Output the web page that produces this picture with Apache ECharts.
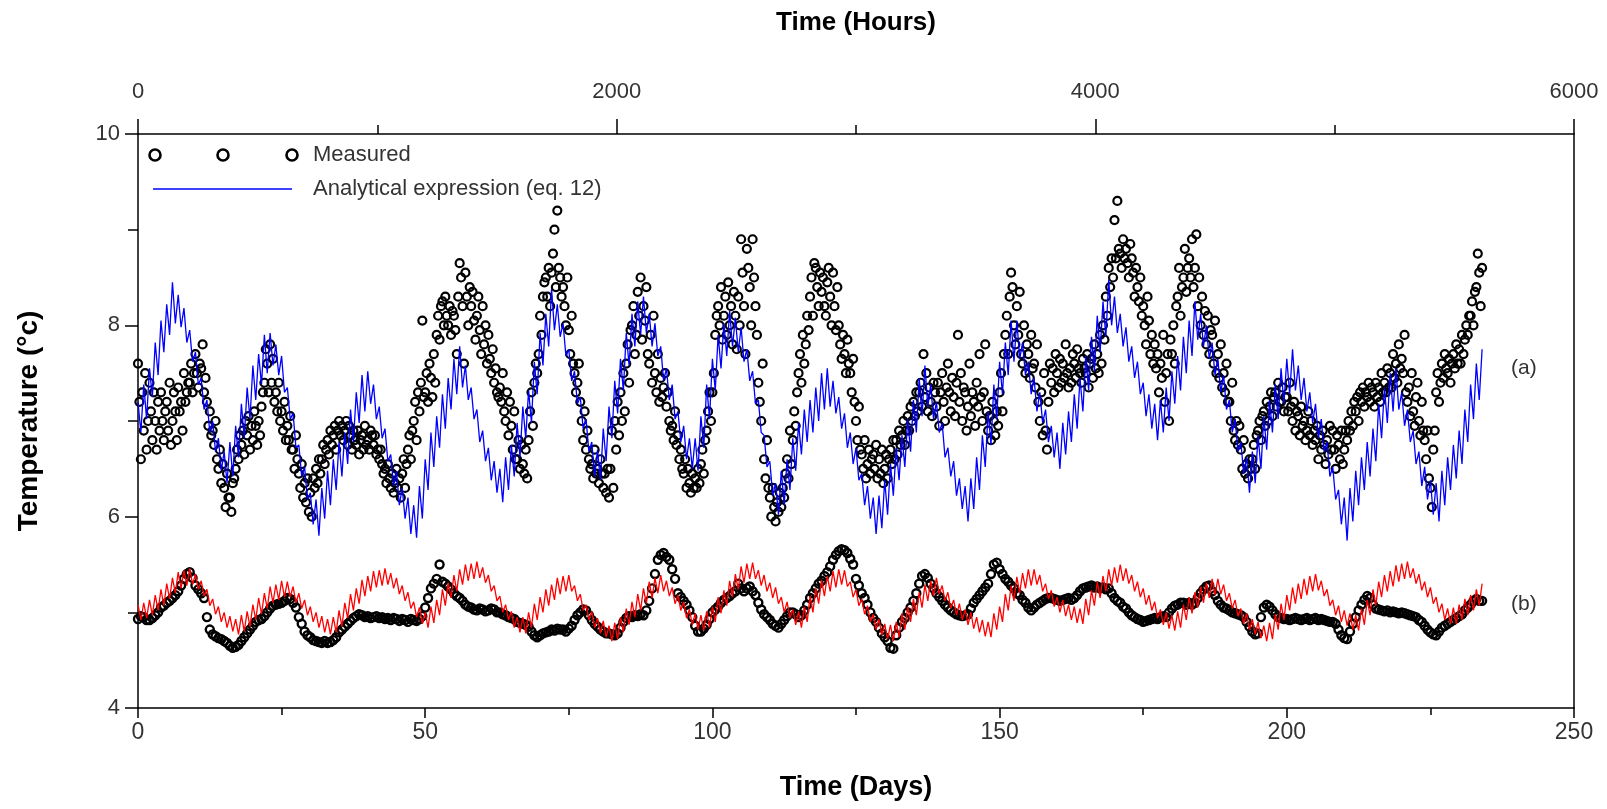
<!DOCTYPE html>
<html>
<head>
<meta charset="utf-8">
<script src="https://cdn.jsdelivr.net/npm/echarts@6.0.0/dist/echarts.min.js"></script>
<style>
html,body{margin:0;padding:0;background:#fff;}
#chart{width:1607px;height:809px;}
</style>
</head>
<body>
<div id="chart"></div>
<script>
// ---------- tick labels / axis ranges ----------
const dayTicks = [0, 50, 100, 150, 200, 250];
const hourTicks = [0, 2000, 4000, 6000];
const tempTicks = [4, 6, 8, 10];

// ---------- (a) measured, one reading every 0.25 day ----------
const measStepA = 0.25;
const measuredA = [
7.6,7.2,6.6,7.3, 6.9,7.5,6.7,7.0, 7.4,7.1,6.8,7.3, 7.0,6.7,7.2,6.9, 7.3,7.0,6.8,7.1,
7.2,6.9,7.4,6.75, 7.0,7.3,7.1,6.8, 7.35,7.1,7.2,6.9, 7.5,7.2,7.3,7.4, 7.4,7.6,7.3,7.5,
7.7,7.5,7.35,7.6, 7.55,7.8,7.3,7.45, 7.2,6.95,7.1,6.85, 6.9,6.75,7.0,6.6, 6.5,6.7,6.35,6.55,
6.3,6.1,6.45,6.2, 6.2,6.05,6.35,6.4, 6.5,6.7,6.6,6.85, 6.75,6.9,6.65,7.0, 6.85,7.05,6.7,6.95,
6.8,7.1,6.95,6.75, 7.0,6.85,7.15,7.3, 7.4,7.75,7.6,7.3, 7.8,7.4,7.65,7.2, 7.3,7.1,7.4,7.0,
7.1,6.9,7.2,6.8, 6.95,6.8,7.05,6.7, 6.7,6.5,6.85,6.6, 6.45,6.3,6.55,6.2, 6.35,6.15,6.4,6.05,
6.25,6.0,6.4,6.3, 6.5,6.35,6.6,6.45, 6.6,6.75,6.55,6.7, 6.8,6.65,6.9,6.75, 6.85,6.95,6.7,6.9,
7.0,6.85,6.95,6.8, 6.9,7.0,6.75,6.95, 6.85,6.7,6.9,6.8, 6.75,6.9,6.65,6.8, 6.85,6.7,6.95,6.75,
6.8,6.7,6.9,6.85, 6.75,6.85,6.65,6.7, 6.6,6.7,6.55,6.45, 6.5,6.35,6.55,6.4, 6.3,6.45,6.25,6.35,
6.5,6.3,6.4,6.2, 6.45,6.6,6.3,6.55, 6.7,6.85,6.6,6.9, 7.0,7.2,6.8,7.3, 7.1,7.4,8.05,7.25,
7.3,7.5,7.2,7.6, 7.45,7.25,7.7,7.4, 7.9,8.1,7.85,8.2, 8.25,8.0,8.3,8.1, 8.0,8.2,7.9,8.15,
8.1,7.95,7.7,8.3, 8.65,8.5,8.2,7.6, 8.55,8.3,8.0,8.4, 8.2,8.35,8.05,7.85, 8.1,8.3,7.95,7.7,
8.2,7.8,8.0,7.6, 7.9,7.65,7.5,7.75, 7.4,7.55,7.3,7.25, 7.35,7.2,7.5,7.1, 7.0,7.3,6.85,7.2,
6.95,6.7,7.1,6.6, 6.6,6.8,6.5,6.75, 6.55,6.45,6.7,6.4, 6.8,7.1,7.3,6.95, 7.4,7.6,7.5,7.7,
8.1,7.9,8.3,8.45, 8.5,8.3,8.6,8.2, 8.55,8.75,9.0,8.4, 9.2,8.6,8.5,8.3, 8.4,8.2,8.0,8.5,
7.95,7.7,8.1,7.6, 7.5,7.3,7.4,7.6, 7.2,7.0,6.8,7.1, 6.7,6.9,6.6,6.5, 6.55,6.4,6.7,6.45,
6.5,6.35,6.6,6.45, 6.3,6.45,6.25,6.5, 6.2,6.5,6.9,6.3, 7.0,6.7,7.2,6.85, 7.3,7.0,7.5,7.1,
7.6,7.8,7.4,7.95, 8.0,8.2,7.7,7.9, 8.35,8.1,8.5,7.85, 8.2,8.05,8.4,7.7, 7.6,7.9,7.4,8.1,
7.5,7.3,7.7,7.2, 7.45,7.25,7.35,7.5, 7.15,7.3,7.0,6.9, 6.95,6.8,7.1,6.75, 6.85,6.6,6.7,6.5,
6.45,6.6,6.3,6.5, 6.35,6.25,6.45,6.3, 6.4,6.3,6.5,6.35, 6.55,6.7,6.45,6.8, 6.9,7.1,7.3,7.0,
7.3,7.5,7.9,8.1, 8.2,8.0,8.4,7.85, 8.1,8.3,7.9,8.45, 8.0,8.2,7.8,8.35, 8.1,7.75,8.3,8.0,
8.9,8.55,8.2,7.7, 8.8,8.6,8.4,8.0, 8.9,8.5,8.2,7.9, 7.4,7.2,7.0,7.6, 6.6,6.4,6.8,6.3,
6.2,6.0,6.3,6.1, 5.95,6.15,6.05,6.25, 6.1,6.3,6.2,6.45, 6.6,6.4,6.9,6.55, 6.8,7.1,6.95,7.3,
7.5,7.7,7.4,7.9, 7.6,7.8,8.1,7.95, 8.3,8.5,8.1,8.65, 8.6,8.4,8.2,8.55, 8.35,8.5,8.2,8.1,
8.45,8.6,8.3,8.0, 8.55,8.2,7.95,8.4, 8.0,7.8,7.65,7.9, 7.7,7.5,7.85,7.6, 7.5,7.3,7.65,7.2,
7.0,6.8,7.15,6.7, 6.65,6.5,6.8,6.4, 6.55,6.7,6.45,6.6, 6.65,6.5,6.75,6.4, 6.6,6.45,6.7,6.35,
6.5,6.65,6.4,6.6, 6.7,6.55,6.8,6.6, 6.8,6.65,6.9,6.75, 6.85,7.0,6.75,6.9, 7.05,6.9,7.15,7.0,
7.2,7.05,7.3,7.1, 7.3,7.4,7.15,7.7, 7.25,7.5,7.1,7.35, 7.2,7.05,7.4,7.3, 7.15,7.4,6.95,7.3,
7.5,7.2,7.0,7.35, 7.6,7.3,7.1,7.45, 7.25,7.05,7.4,7.9, 7.2,7.5,7.0,7.35, 7.3,6.9,7.15,7.6,
7.05,7.3,7.2,6.95, 7.4,7.15,7.7,7.25, 7.0,7.3,7.8,7.1, 6.9,7.05,6.8,7.2, 7.0,6.85,7.1,6.95,
7.3,7.5,7.1,7.7, 7.9,8.1,7.7,8.3, 8.55,8.4,8.0,7.8, 8.2,7.9,8.35,7.7, 7.6,8.0,7.5,7.8,
7.7,7.45,7.9,7.55, 7.6,7.35,7.8,7.2, 7.0,7.3,6.85,7.5, 6.9,6.7,7.2,7.6, 7.4,7.55,7.3,7.7,
7.5,7.35,7.65,7.4, 7.6,7.45,7.8,7.5, 7.35,7.55,7.4,7.7, 7.6,7.45,7.75,7.55, 7.5,7.4,7.65,7.55,
7.5,7.7,7.35,7.6, 7.65,7.45,7.8,7.55, 7.7,7.5,7.9,7.6, 8.0,7.85,8.3,8.1, 8.6,8.4,8.7,8.5,
9.1,8.7,9.3,8.8, 8.75,8.6,8.9,8.7, 8.8,8.65,8.5,8.85, 8.7,8.55,8.3,8.6, 8.4,8.25,8.5,8.1,
8.2,8.0,7.8,8.3, 8.05,7.7,7.9,7.6, 7.8,7.55,7.7,7.3, 7.6,7.45,7.9,7.2, 7.5,7.7,7.0,7.85,
7.7,8.0,7.6,8.2, 8.3,8.6,8.1,8.4, 8.5,8.8,8.35,8.6, 8.7,8.5,8.9,8.4, 8.6,8.95,8.2,8.5,
8.0,8.3,7.9,8.15, 7.8,8.1,7.7,7.95, 7.9,7.6,8.05,7.5, 7.7,7.45,7.8,7.35, 7.5,7.3,7.6,7.2,
7.2,7.0,7.4,6.9, 6.8,7.0,6.75,6.95, 6.7,6.5,6.8,6.45, 6.55,6.4,6.6,6.5, 6.6,6.75,6.5,6.85,
6.9,7.0,6.8,7.05, 7.1,6.95,7.2,7.0, 7.15,7.3,7.05,7.25, 7.3,7.15,7.4,7.2, 7.2,7.35,7.1,7.25,
7.25,7.1,7.4,7.15, 7.0,7.2,6.9,7.1, 7.05,6.85,7.15,6.95, 7.0,6.8,6.9,7.1, 6.85,7.0,6.75,6.9,
6.8,6.95,6.6,6.85, 6.7,6.9,6.75,6.55, 6.8,6.65,6.95,6.7, 6.9,6.7,6.5,6.85, 6.75,6.6,6.9,6.55,
6.7,6.9,6.8,7.0, 6.9,7.1,6.95,7.2, 7.1,7.25,7.0,7.3, 7.2,7.35,7.15,7.3, 7.25,7.4,7.2,7.35,
7.3,7.15,7.4,7.25, 7.35,7.2,7.5,7.3, 7.4,7.3,7.55,7.35, 7.5,7.35,7.7,7.45, 7.6,7.4,7.8,7.55,
7.65,7.5,7.9,7.3, 7.2,7.35,7.05,7.5, 7.1,6.95,7.25,7.4, 7.0,6.85,7.2,6.9, 6.8,6.6,6.9,6.4,
6.3,6.1,6.7,6.9, 7.3,7.5,7.2,7.4, 7.6,7.45,7.7,7.55, 7.5,7.65,7.4,7.6, 7.7,7.55,7.8,7.6,
7.75,7.6,7.9,7.7, 7.85,8.0,7.9,8.1, 8.1,8.25,8.0,8.35, 8.4,8.75,8.55,8.2, 8.6
];

// ---------- (b) measured, one reading every 0.5 day ----------
const measStepB = 0.5;
const measuredB = [
4.93,4.96, 4.95,4.92, 4.92,4.94, 4.97,5.0, 5.05,5.07, 5.1,5.12, 5.15,5.18, 5.22,5.28, 5.35,5.4, 5.42,5.36,
5.28,5.24, 5.2,5.15, 4.95,4.82, 4.77,4.75, 4.73,4.72, 4.7,4.68, 4.65,4.63, 4.64,4.66, 4.7,4.74, 4.78,4.82,
4.86,4.9, 4.92,4.93, 4.96,5.0, 5.04,5.07, 5.08,5.09, 5.1,5.12, 5.15,5.14, 5.1,5.05, 4.95,4.88, 4.8,4.76,
4.74,4.71, 4.7,4.69, 4.68,4.7, 4.68,4.69, 4.71,4.74, 4.79,4.82, 4.85,4.88, 4.91,4.94, 4.96,4.98, 4.97,4.95,
4.96,4.94, 4.95,4.96, 4.94,4.95, 4.93,4.94, 4.92,4.94, 4.93,4.91, 4.93,4.92, 4.9,4.93, 4.92,4.91, 4.93,4.96,
5.05,5.15, 5.25,5.3, 5.35,5.5, 5.32,5.3, 5.27,5.24, 5.2,5.17, 5.15,5.12, 5.08,5.06, 5.05,5.03, 5.02,5.04,
5.03,5.01, 5.02,5.04, 5.03,5.0, 5.0,4.98, 4.97,4.95, 4.94,4.93, 4.9,4.89, 4.88,4.87, 4.85,4.8, 4.76,4.74,
4.76,4.78, 4.79,4.8, 4.82,4.81, 4.83,4.82, 4.82,4.8, 4.83,4.86, 4.92,4.97, 5.0,5.03, 5.02,4.97, 4.92,4.88,
4.85,4.82, 4.8,4.78, 4.78,4.77, 4.76,4.78, 4.84,4.9, 4.94,4.96, 4.95,4.97, 4.96,4.98, 4.97,5.02, 5.12,5.25,
5.4,5.55, 5.6,5.62, 5.58,5.55, 5.45,5.35, 5.2,5.16, 5.12,5.08, 5.02,4.95, 4.86,4.8, 4.8,4.83, 4.87,4.93,
5.0,5.03, 5.06,5.1, 5.13,5.15, 5.17,5.2, 5.22,5.3, 5.25,5.22, 5.25,5.27, 5.22,5.18, 5.1,5.03, 4.98,4.95,
4.92,4.88, 4.86,4.84, 4.88,4.92, 4.96,5.0, 5.0,4.98, 4.95,4.97, 5.02,5.08, 5.15,5.2, 5.25,5.3, 5.33,5.38,
5.42,5.48, 5.55,5.6, 5.64,5.66, 5.65,5.62, 5.56,5.5, 5.35,5.28, 5.2,5.15, 5.08,5.0, 4.94,4.9, 4.84,4.78,
4.74,4.7, 4.63,4.62, 4.76,4.84, 4.9,4.94, 5.0,5.05, 5.12,5.2, 5.3,5.38, 5.4,5.36, 5.3,5.25, 5.2,5.16,
5.12,5.08, 5.05,5.02, 5.0,4.98, 4.97,4.96, 4.97,4.98, 5.04,5.1, 5.14,5.18, 5.22,5.26, 5.3,5.4, 5.5,5.52,
5.45,5.4, 5.35,5.32, 5.28,5.25, 5.2,5.18, 5.13,5.1, 5.05,5.02, 5.05,5.08, 5.1,5.12, 5.14,5.15, 5.15,5.14,
5.13,5.12, 5.13,5.14, 5.15,5.13, 5.15,5.18, 5.22,5.25, 5.26,5.27, 5.28,5.26, 5.27,5.25, 5.26,5.24, 5.25,5.2,
5.15,5.12, 5.1,5.06, 5.04,5.0, 4.97,4.95, 4.93,4.92, 4.9,4.91, 4.92,4.93, 4.94,4.93, 4.95,4.96, 4.95,5.0,
5.04,5.07, 5.08,5.1, 5.1,5.08, 5.1,5.08, 5.1,5.15, 5.2,5.24, 5.27,5.28, 5.22,5.18, 5.12,5.08, 5.05,5.04,
5.02,5.0, 4.99,4.98, 4.97,4.95, 4.9,4.85, 4.8,4.77, 4.78,4.95, 5.05,5.08, 5.06,5.02, 4.98,4.95, 4.94,4.93,
4.93,4.92, 4.93,4.94, 4.93,4.92, 4.93,4.94, 4.92,4.93, 4.94,4.92, 4.93,4.92, 4.91,4.9, 4.9,4.88, 4.82,4.76,
4.73,4.72, 4.8,4.88, 4.95,5.02, 5.08,5.13, 5.17,5.15, 5.08,5.04, 5.03,5.02, 5.01,5.02, 5.0,5.01, 5.0,4.99,
5.0,4.99, 4.98,4.97, 4.96,4.95, 4.92,4.9, 4.86,4.82, 4.79,4.77, 4.76,4.8, 4.84,4.86, 4.88,4.9, 4.92,4.94,
4.96,4.98, 5.02,5.05, 5.08,5.12, 5.14,5.12, 5.12
];

// ---------- (a) analytical expression: daily high and low, days 0..234 ----------
const analyticAHigh = [
7.2,7.38,7.55,7.82,8.05,8.22,8.45,8.32,8.18,7.95, 7.72,7.45,7.22,7.0,6.82,6.68,6.78,6.95,7.18,7.35,
7.58,7.7,7.9,7.92,7.8,7.68,7.35,7.08,6.75,6.52, 6.25,6.18,6.3,6.48,6.6,6.78,6.88,7.12,7.3,7.48,
7.52,7.38,7.15,6.92,6.65,6.48,6.3,6.2,6.12,6.32, 6.6,6.88,7.05,7.28,7.45,7.65,7.78,7.58,7.35,7.12,
6.9,6.72,6.58,6.5,6.62,6.75,6.98,7.15,7.32,7.62, 7.92,8.12,8.38,8.22,8.02,7.75,7.52,7.25,7.02,6.78,
6.7,6.92,7.15,7.42,7.65,7.92,8.12,8.25,8.3,8.12, 8.02,7.78,7.55,7.38,7.1,6.95,6.82,6.82,7.05,7.38,
7.65,7.9,8.02,8.15,8.08,7.98,7.75,7.52,7.22,6.85, 6.58,6.35,6.48,6.6,6.82,6.98,7.12,7.22,7.35,7.5,
7.55,7.42,7.25,7.08,6.88,6.72,6.45,6.32,6.2,6.22, 6.38,6.55,6.72,6.85,7.02,7.22,7.45,7.58,7.38,7.2,
6.98,6.72,6.58,6.4,6.32,6.4,6.62,6.85,7.1,7.38, 7.62,7.82,8.05,8.05,7.82,7.62,7.45,7.3,7.12,6.95,
6.88,6.98,7.1,7.28,7.45,7.68,7.88,8.1,8.25,8.48, 8.3,8.12,7.98,7.78,7.62,7.4,7.28,7.18,7.22,7.35,
7.52,7.68,7.88,8.05,8.25,8.12,8.0,7.82,7.65,7.48, 7.22,7.02,6.78,6.62,6.68,6.85,7.05,7.22,7.38,7.55,
7.65,7.75,7.58,7.45,7.3,7.18,7.02,6.78,6.52,6.28, 6.2,6.3,6.48,6.62,6.78,6.92,7.18,7.35,7.5,7.55,
7.3,7.12,6.9,6.68,6.52,6.38,6.35,6.48,6.62,6.75, 6.9,7.12,7.38,7.6,7.75
];
const analyticALow = [
6.88,7.02,7.25,7.48,7.72,7.9,8.02,7.98,7.82,7.62, 7.38,7.12,6.88,6.68,6.48,6.35,6.42,6.62,6.82,7.02,
7.22,7.38,7.5,7.58,7.48,7.3,7.02,6.72,6.42,6.18, 5.92,5.8,5.98,6.12,6.28,6.42,6.55,6.78,6.98,7.1,
7.18,7.02,6.82,6.58,6.32,6.12,5.98,5.82,5.78,5.98, 6.28,6.52,6.72,6.92,7.12,7.28,7.35,7.22,7.02,6.78,
6.58,6.38,6.25,6.15,6.28,6.42,6.62,6.82,6.98,7.28, 7.58,7.78,7.95,7.88,7.68,7.42,7.18,6.92,6.68,6.42,
6.38,6.58,6.82,7.08,7.32,7.58,7.78,7.9,7.92,7.78, 7.68,7.42,7.22,7.02,6.78,6.6,6.5,6.48,6.72,7.02,
7.32,7.55,7.68,7.78,7.72,7.62,7.42,7.18,6.88,6.52, 6.22,6.02,6.12,6.28,6.48,6.65,6.78,6.88,7.0,7.12,
7.15,7.08,6.92,6.72,6.55,6.38,6.12,5.98,5.82,5.88, 6.02,6.22,6.38,6.52,6.68,6.88,7.05,7.15,7.02,6.88,
6.62,6.42,6.22,6.08,5.95,6.08,6.28,6.52,6.75,7.02, 7.28,7.48,7.62,7.65,7.48,7.28,7.1,6.98,6.78,6.62,
6.5,6.65,6.78,6.92,7.1,7.32,7.52,7.72,7.88,8.0, 7.92,7.78,7.62,7.45,7.28,7.05,6.92,6.8,6.88,7.0,
7.18,7.32,7.5,7.68,7.85,7.78,7.65,7.48,7.3,7.12, 6.88,6.68,6.45,6.25,6.35,6.5,6.7,6.88,7.02,7.18,
7.28,7.32,7.22,7.1,6.98,6.82,6.68,6.42,6.18,5.92, 5.75,5.95,6.12,6.28,6.42,6.58,6.82,6.98,7.1,7.12,
6.95,6.78,6.55,6.32,6.18,6.02,5.95,6.12,6.28,6.4, 6.55,6.78,7.02,7.22,7.38
];

// ---------- (b) analytical expression: daily high and low, days 0..234 ----------
const analyticBHigh = [
5.08,5.1,5.13,5.18,5.24,5.3,5.36,5.42,5.44,5.46, 5.4,5.33,5.24,5.14,5.06,5.0,4.96,4.93,4.97,5.01,
5.08,5.15,5.2,5.27,5.29,5.33,5.32,5.27,5.2,5.13, 5.06,5.0,4.96,4.93,4.95,5.02,5.1,5.19,5.25,5.34,
5.38,5.43,5.44,5.46,5.41,5.36,5.28,5.21,5.11,5.05, 5.0,5.06,5.13,5.24,5.31,5.39,5.45,5.5,5.51,5.53,
5.47,5.39,5.28,5.17,5.08,5.01,4.95,4.95,5.0,5.09, 5.16,5.24,5.29,5.36,5.38,5.39,5.28,5.19,5.08,5.01,
4.94,4.91,4.86,4.89,4.95,5.04,5.11,5.19,5.25,5.32, 5.36,5.39,5.33,5.26,5.18,5.11,5.03,4.99,4.97,5.01,
5.06,5.16,5.23,5.33,5.4,5.48,5.51,5.52,5.44,5.39, 5.31,5.26,5.16,5.11,5.03,5.01,5.06,5.17,5.25,5.34,
5.38,5.43,5.45,5.44,5.32,5.24,5.14,5.07,4.98,4.93, 4.88,4.87,4.9,4.99,5.06,5.14,5.21,5.29,5.33,5.36,
5.28,5.21,5.13,5.09,5.03,5.0,4.95,4.92,4.9,4.99, 5.06,5.19,5.28,5.37,5.41,5.45,5.45,5.39,5.3,5.23,
5.16,5.13,5.08,5.06,5.04,5.14,5.23,5.32,5.38,5.45, 5.47,5.5,5.46,5.39,5.32,5.25,5.18,5.11,5.03,5.0,
4.97,5.01,5.08,5.16,5.21,5.27,5.31,5.35,5.35,5.29, 5.2,5.13,5.04,4.99,4.93,4.9,4.86,4.89,4.98,5.09,
5.18,5.26,5.3,5.35,5.38,5.4,5.33,5.24,5.13,5.07, 5.02,4.99,4.97,5.04,5.13,5.24,5.32,5.39,5.43,5.49,
5.51,5.53,5.46,5.4,5.32,5.26,5.16,5.09,5.04,5.05, 5.08,5.14,5.18,5.24,5.3
];
const analyticBLow = [
4.92,4.94,4.97,5.02,5.07,5.14,5.2,5.25,5.28,5.29, 5.24,5.17,5.07,4.98,4.9,4.84,4.8,4.77,4.8,4.85,
4.92,4.98,5.04,5.1,5.13,5.16,5.16,5.1,5.04,4.97, 4.9,4.84,4.79,4.77,4.79,4.85,4.94,5.02,5.09,5.17,
5.22,5.26,5.28,5.29,5.25,5.19,5.12,5.04,4.95,4.88, 4.84,4.89,4.97,5.07,5.15,5.22,5.29,5.33,5.35,5.36,
5.31,5.22,5.12,5.0,4.92,4.84,4.79,4.78,4.84,4.92, 5.0,5.07,5.13,5.19,5.22,5.22,5.12,5.02,4.92,4.84,
4.78,4.74,4.7,4.72,4.79,4.87,4.95,5.02,5.09,5.15, 5.2,5.22,5.17,5.09,5.02,4.94,4.87,4.82,4.81,4.84,
4.9,4.99,5.07,5.16,5.24,5.31,5.35,5.35,5.28,5.22, 5.15,5.09,5.0,4.94,4.87,4.84,4.9,5.0,5.09,5.17,
5.22,5.26,5.29,5.27,5.16,5.07,4.98,4.9,4.82,4.76, 4.72,4.7,4.74,4.82,4.9,4.97,5.05,5.12,5.17,5.19,
5.12,5.04,4.97,4.92,4.87,4.83,4.79,4.75,4.74,4.82, 4.9,5.02,5.12,5.2,5.25,5.28,5.29,5.22,5.14,5.06,
5.0,4.96,4.92,4.89,4.88,4.97,5.07,5.15,5.22,5.28, 5.31,5.33,5.3,5.22,5.16,5.08,5.02,4.94,4.87,4.83,
4.81,4.84,4.92,4.99,5.05,5.1,5.15,5.18,5.19,5.12, 5.04,4.96,4.88,4.82,4.77,4.73,4.7,4.72,4.82,4.92,
5.02,5.09,5.14,5.18,5.22,5.23,5.17,5.07,4.97,4.9, 4.86,4.82,4.81,4.87,4.97,5.07,5.16,5.22,5.27,5.32,
5.35,5.36,5.3,5.23,5.16,5.09,5.0,4.92,4.88,4.88, 4.92,4.97,5.02,5.07,5.12
];

// ---------- build series data ----------
function pointsFromSteps(values, step) {
  return values.map((v, i) => [i * step, v]);
}
function zigzag(high, low) {
  const out = [];
  for (let d = 0; d < high.length; d++) {
    out.push([d, high[d]]);
    if (d < high.length - 1) out.push([d + 0.5, low[d]]);
  }
  return out;
}

const FONT = '"Liberation Sans", Arial, sans-serif';
const tickStyle = { color: '#000', width: 1.5 };

const chart = echarts.init(document.getElementById('chart'), null, { renderer: 'canvas' });
const option = {
  animation: false,
  backgroundColor: '#ffffff',
  grid: { left: 138, right: 33, top: 134, bottom: 101, containLabel: false },
  xAxis: [
    {
      type: 'value', position: 'bottom', min: dayTicks[0], max: dayTicks[dayTicks.length - 1], interval: 50,
      name: 'Time (Days)', nameLocation: 'middle', nameGap: 66,
      nameTextStyle: { fontFamily: FONT, fontSize: 27, fontWeight: 'bold', color: '#000' },
      axisLine: { show: true, onZero: false, lineStyle: tickStyle },
      axisTick: { show: true, inside: false, length: 10, lineStyle: tickStyle },
      minorTick: { show: true, splitNumber: 2, length: 7, lineStyle: tickStyle },
      axisLabel: { margin: 13, fontFamily: FONT, fontSize: 23, color: '#333', formatter: v => String(v) },
      splitLine: { show: false }, minorSplitLine: { show: false }
    },
    {
      type: 'value', position: 'top', min: hourTicks[0], max: hourTicks[hourTicks.length - 1], interval: 2000,
      name: 'Time (Hours)', nameLocation: 'middle', nameGap: 98,
      nameTextStyle: { fontFamily: FONT, fontSize: 26, fontWeight: 'bold', color: '#000' },
      axisLine: { show: true, onZero: false, lineStyle: tickStyle },
      axisTick: { show: true, inside: false, length: 15, lineStyle: tickStyle },
      minorTick: { show: true, splitNumber: 2, length: 9, lineStyle: tickStyle },
      axisLabel: { margin: 31, fontFamily: FONT, fontSize: 22, color: '#333', formatter: v => String(v) },
      splitLine: { show: false }, minorSplitLine: { show: false }
    }
  ],
  yAxis: [
    {
      type: 'value', position: 'left', min: tempTicks[0], max: tempTicks[tempTicks.length - 1], interval: 2,
      name: 'Temperature (°c)', nameLocation: 'middle', nameGap: 95, nameRotate: 90,
      nameTextStyle: { fontFamily: FONT, fontSize: 28, fontWeight: 'bold', color: '#000' },
      axisLine: { show: true, onZero: false, lineStyle: tickStyle },
      axisTick: { show: true, inside: false, length: 13, lineStyle: tickStyle },
      minorTick: { show: true, splitNumber: 2, length: 10, lineStyle: tickStyle },
      axisLabel: { margin: 18, fontFamily: FONT, fontSize: 22, color: '#333', formatter: v => String(v) },
      splitLine: { show: false }, minorSplitLine: { show: false }
    },
    {
      type: 'value', position: 'right', min: tempTicks[0], max: tempTicks[tempTicks.length - 1],
      axisLine: { show: true, onZero: false, lineStyle: tickStyle },
      axisTick: { show: false }, axisLabel: { show: false }, splitLine: { show: false }
    }
  ],
  series: [
    {
      name: 'Measured (a)', type: 'scatter', xAxisIndex: 0, yAxisIndex: 0,
      data: pointsFromSteps(measuredA, measStepA),
      symbol: 'circle', symbolSize: 8, z: 2,
      itemStyle: { color: 'rgba(255,255,255,0)', borderColor: '#000000', borderWidth: 2.2, opacity: 1 },
      emphasis: { disabled: true }
    },
    {
      name: 'Measured (b)', type: 'scatter', xAxisIndex: 0, yAxisIndex: 0,
      data: pointsFromSteps(measuredB, measStepB),
      symbol: 'circle', symbolSize: 8, z: 2,
      itemStyle: { color: 'rgba(255,255,255,0)', borderColor: '#000000', borderWidth: 2.4, opacity: 1 },
      emphasis: { disabled: true }
    },
    {
      name: 'Analytical expression (a)', type: 'line', xAxisIndex: 0, yAxisIndex: 0,
      data: zigzag(analyticAHigh, analyticALow), showSymbol: false, symbol: 'none', z: 3,
      lineStyle: { color: '#0000ff', width: 1.3 }, emphasis: { disabled: true }
    },
    {
      name: 'Analytical expression (b)', type: 'line', xAxisIndex: 0, yAxisIndex: 0,
      data: zigzag(analyticBHigh, analyticBLow), showSymbol: false, symbol: 'none', z: 3,
      lineStyle: { color: '#ff0000', width: 1.3 }, emphasis: { disabled: true }
    }
  ],
  graphic: [
    { type: 'circle', shape: { cx: 155, cy: 155, r: 5.5 }, style: { fill: '#fff', stroke: '#000', lineWidth: 2.6 }, z: 10 },
    { type: 'circle', shape: { cx: 223, cy: 155, r: 5.5 }, style: { fill: '#fff', stroke: '#000', lineWidth: 2.6 }, z: 10 },
    { type: 'circle', shape: { cx: 292, cy: 155, r: 5.5 }, style: { fill: '#fff', stroke: '#000', lineWidth: 2.6 }, z: 10 },
    { type: 'text', x: 313, y: 155, z: 10,
      style: { text: 'Measured', font: '22px ' + FONT, fill: '#333', align: 'left', verticalAlign: 'middle' } },
    { type: 'line', shape: { x1: 153, y1: 189, x2: 292, y2: 189 }, style: { stroke: '#0000ff', lineWidth: 1.3 }, z: 10 },
    { type: 'text', x: 313, y: 189, z: 10,
      style: { text: 'Analytical expression (eq. 12)', font: '22px ' + FONT, fill: '#333', align: 'left', verticalAlign: 'middle' } },
    { type: 'text', x: 1511, y: 368, z: 10,
      style: { text: '(a)', font: '21px ' + FONT, fill: '#333', align: 'left', verticalAlign: 'middle' } },
    { type: 'text', x: 1511, y: 604, z: 10,
      style: { text: '(b)', font: '21px ' + FONT, fill: '#333', align: 'left', verticalAlign: 'middle' } }
  ]
};
chart.setOption(option);
</script>
</body>
</html>
